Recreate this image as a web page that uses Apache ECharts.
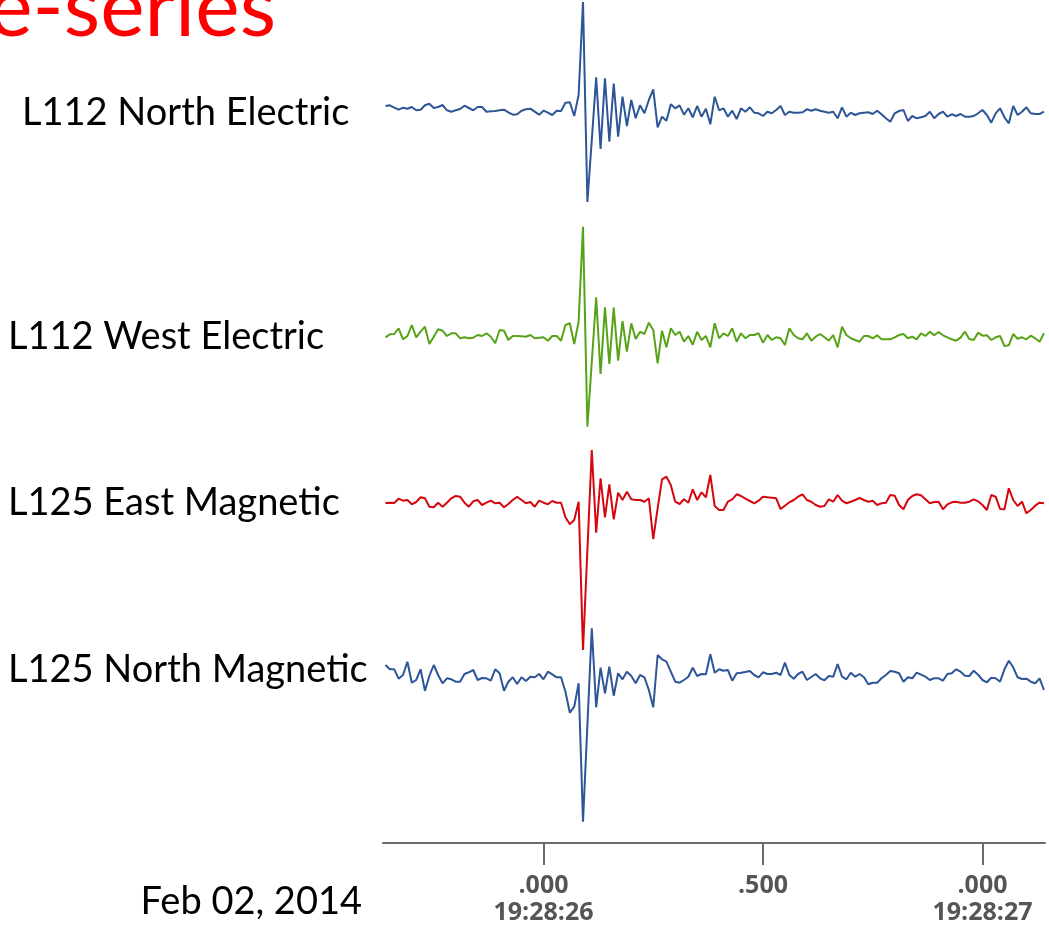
<!DOCTYPE html>
<html>
<head>
<meta charset="utf-8">
<title>time-series</title>
<script src="https://cdn.jsdelivr.net/npm/echarts@6/dist/echarts.min.js"></script>
<style>
	html,body{margin:0;padding:0;background:#fff;}
	#main{width:1049px;height:930px;}
</style>
</head>
<body>
<div id="main"></div>
<script>
	// sample clock: 100 Hz, first sample at 19:28:25.64 (seconds of the minute)
	const sampleStart = 25.64;
	const sampleStep = 0.01;
	const tickSeconds = [26, 26.5, 27];
	const channelNames = ['L112 North Electric', 'L112 West Electric', 'L125 East Magnetic', 'L125 North Magnetic'];
	const dateLabel = 'Feb 02, 2014';

	const northElectric112 = [
		1, 1.7, -0.7, -2.7, -0.7, -1.7, 0, -3.3, -2.7, 1.7,
		3.3, -1, 0, 2, -3.3, -4.7, -3.3, -2, 1.3, -1,
		-3.3, 0, 0, -4.7, -4.3, -4, -3.3, -2.7, -5.3, -7.7,
		-7.3, -3.7, -2.3, -1.7, -4.7, -7.7, -3.7, -5.7, -8, -3.7,
		-4, 4.3, 4.7, -9, 12, 105, -95, -33, 29.7, -42,
		28.7, -34.7, 23.3, -29.7, 10.3, -19, 7, -11.3, 1.7, -6.3,
		7, 17.7, -20.3, -9.7, -13.7, 2.7, -1.3, 1.7, -7.7, -1.3,
		-10.3, 1, -9.7, -1.7, -17.3, 10.3, -3.3, -1.3, -9.7, -3.7,
		-12, -1.3, -4.7, -0.3, -5.7, -6.3, -9, -4.7, -6.3, -3,
		1, -8, -4.7, -5.7, -5.7, -5.3, -2.3, -3.7, -2.3, -3.7,
		-4.7, -5.7, -4.7, -11.3, -0.3, -9.7, -5.7, -8, -6.3, -5.7,
		-5.3, -7, -3.7, -7.3, -11.3, -14.7, -6.3, -4, -3, -14,
		-9, -11.3, -10.3, -9, -4.7, -11.3, -7, -4.7, -9.7, -7.3,
		-9, -7, -9.7, -9.7, -9, -6.3, -3, -8, -15.7, -6.3,
		-1.3, -10.3, -16.3, 1, -8, -4.7, -0.3, -6.3, -7, -7,
		-4.7
	];
	const westElectric112 = [
		-0.3, 2.7, 3, 8.7, -2.3, 1, 12, -0.3, 5.3, 10.3,
		-7, 0.3, 7.7, 6.3, 1, 3.7, 3.7, -1.3, -0.3, -1.3,
		-0.7, 2, 1, 3.7, 0.3, -6.3, 7, 6.3, -3, 1,
		1, 0.7, 0.3, 2, -1.3, -0.7, -0.3, -3.7, 1, 1,
		-3.7, 12, 13.7, -7, 15.3, 110.3, -89.7, -25, 39.7, -37,
		29.7, -27, 29.3, -23.7, 16, -14.7, 13.7, -2, 5.3, 3,
		14.3, 7, -26.3, 6.3, -10.3, 8.7, 2, 5.3, -4.7, 1,
		-7.7, 5.3, -3, 1, -10.3, 13.7, -1.3, 3.7, 1, 8.7,
		-4.7, 3.7, -1.3, 2, 2, 3.7, -5.7, 2, -3, -0.3,
		-1.3, -8, 8.7, 2, -1.3, -2.3, 3.7, -3.7, 0.3, 3,
		-0.3, -3.7, 2, -10.3, 10.3, 2, -1.3, -3, -4.7, 1,
		1, -1.3, 1.7, -2.3, -2.3, -2.3, -0.3, 2, 3, -1.3,
		0.3, -2.3, 3.7, 1, 5.3, 1.7, 5, 1.7, -0.3, -2.3,
		-3.7, -0.7, 5.3, -2, -3, 4.3, 1.3, 1.7, -3, -0.3,
		1, -9, -8.3, 3, -1.7, -0.3, -2.3, 1.3, -1.3, -4.7,
		3.7
	];
	const eastMagnetic125 = [
		0, 0.3, 0, 4.3, 2.3, 3, -1.3, 1, 5.7, 4.7,
		-3.7, -4.3, 0.3, -3.7, 0.3, 4.7, 7, 6.3, 0.3, -3.7,
		1.7, 3, -2, 0.3, 2.3, -0.3, 0.3, -4.3, -1, 3,
		6.3, 3, -0.3, 1, -3.7, 2.3, 0.3, -1.3, 2, 0.3,
		0.3, -14.3, -21.3, -17, 1.3, -147, -47, 53, -29.7, 24.7,
		-14.3, 18.7, -16.3, 10.3, 3, 11.3, 3.7, 3, 3, 1.3,
		4.7, -36, -5.3, 23.7, 26.3, 18, 1.3, -1, 3.7, 0.3,
		13.7, 3, 10.7, 5.7, 28, -3, -7, -7, 1.3, 3.7,
		8.7, 7, 4.3, 2, -0.3, 2.3, 6.3, 5.7, 5.3, 4.7,
		-6, -2.7, 0.7, 3, 6.3, 8.7, 3, 1.3, -2, -3.7,
		-3, 3.7, 1.3, 8, 2.3, -0.3, 1.3, 3, 5, 3,
		1.3, 2.3, -2, -0.3, 0.3, 8, 7.3, -2, -6.3, 3,
		7, 8.7, 7.7, 3.7, -0.3, 1, 1.3, -6.3, -1.3, 0.7,
		1.3, 0.3, 0.3, 1.3, 3.7, 1.7, -2, -7, 8, 6.3,
		-6, -6.3, 14.7, 3, -3, 1.3, -10.3, -7, -2.7, 0.3,
		-0.3
	];
	const northMagnetic125 = [
		5, 0.7, 0.7, -8.7, -5, 8.3, -12.7, -10, 0.7, -20.7,
		-6, 5, -5, -13.3, -8.3, -9.3, -11.7, -11.7, -4, -2.3,
		0, -10, -8, -8.3, -10.7, 0.7, -3.3, -20.7, -11.7, -7.3,
		-14, -7.3, -11, -6.7, -7.3, -4, -9.3, -1.7, -4.3, -7.3,
		-7.3, -21.7, -42.7, -36.7, -13.3, -151.7, -55, 41.7, -37.3, 2.3,
		-23.3, 3.3, -25.7, -3.3, -9.3, -1.7, -6, -13.3, -5, -7.3,
		-20, -37.3, 15, 10.7, 8.3, -1.7, -11.7, -12.7, -10, -6.7,
		2.3, -6, -4, -4.3, 15.7, -2.7, 0.7, -0.7, 0, -10.7,
		-3.3, -2.7, -2, -1, -5, -7.3, -2.3, -4, -4, -2.7,
		-5, 7.3, -5, -8.7, -4, -1.7, -10, -7, -4, -8.3,
		-10.3, -6, -6.7, 6, -6.7, -9.3, -2.7, -6.7, -4, -7.3,
		-14.3, -12.7, -12.7, -8.3, -5, -1, -1.7, -3.3, -11.7, -7.3,
		-8.3, -2.7, -4.7, -6.7, -10, -8.3, -8.3, -10.7, -4, -3.3,
		0.7, -1.7, -5.7, -6, -0.7, -4.7, -10, -12.3, -7.7, -8.3,
		-11.7, 0.7, 9.3, 2.7, -7.3, -9, -8.7, -11.7, -13.3, -8.3,
		-20
	];

	const channelValues = [northElectric112, westElectric112, eastMagnetic125, northMagnetic125];
	const channelColors = ['#2d5597', '#57a317', '#d4060e', '#2d5597'];

	// one band per channel, stacked top to bottom
	const bands = [
		{ top: 0, height: 220, min: -113, max: 107 },
		{ top: 220, height: 220, min: -103, max: 117 },
		{ top: 440, height: 180, min: -117, max: 63 },
		{ top: 620, height: 223, min: -173, max: 50 }
	];
	const axisMin = 25.6344;
	const axisMax = 27.1424;

	function toPairs(values) {
		let out = [];
		for (let i = 0; i < values.length; i++) {
			out.push([+(sampleStart + i * sampleStep).toFixed(2), values[i]]);
		}
		return out;
	}

	function tickLabel(v) {
		let whole = Math.floor(v + 1e-9);
		let frac = Math.round((v - whole) * 1000);
		let ms = '.' + String(frac).padStart(3, '0');
		if (frac === 0) {
			return ms + '\n19:28:' + String(whole).padStart(2, '0');
		}
		return ms;
	}

	let chart = echarts.init(document.getElementById('main'), null, { renderer: 'canvas' });

	let grids = [], xAxes = [], yAxes = [], series = [];
	bands.forEach((b, k) => {
		let last = k === bands.length - 1;
		grids.push({ left: 383, right: 4, top: b.top, height: b.height });
		xAxes.push({
			type: 'value',
			gridIndex: k,
			min: axisMin,
			max: axisMax,
			show: last,
			position: 'bottom',
			splitLine: { show: false },
			axisLine: { show: last, onZero: false, lineStyle: { color: '#6b6b6b', width: 2 } },
			axisTick: { show: last, customValues: tickSeconds, length: 22, lineStyle: { color: '#6b6b6b', width: 2 } },
			axisLabel: {
				show: last,
				customValues: tickSeconds,
				formatter: tickLabel,
				margin: 29,
				fontFamily: 'Open Sans',
				fontWeight: 'bold',
				fontSize: 25,
				lineHeight: 27,
				color: '#555555'
			}
		});
		yAxes.push({
			type: 'value',
			gridIndex: k,
			min: b.min,
			max: b.max,
			show: false,
			splitLine: { show: false }
		});
		series.push({
			name: channelNames[k],
			type: 'line',
			xAxisIndex: k,
			yAxisIndex: k,
			data: toPairs(channelValues[k]),
			showSymbol: false,
			clip: false,
			silent: true,
			animation: false,
			lineStyle: { color: channelColors[k], width: 2 },
			z: 3 + k
		});
	});

	const labelFont = 'Lato, "Open Sans", sans-serif';
	let labelPos = [[22, 113], [8, 337], [8, 503], [8, 670]];
	let graphics = [{
		type: 'text',
		right: 1049 - 276,
		top: -33,
		style: { text: 'e-series', fill: '#ff0000', font: '84px ' + labelFont }
	}];
	channelNames.forEach((n, k) => {
		graphics.push({
			type: 'text',
			x: labelPos[k][0],
			y: labelPos[k][1],
			style: { text: n, fill: '#000', font: '38px ' + labelFont, verticalAlign: 'middle' }
		});
	});
	graphics.push({
		type: 'text',
		x: 362,
		y: 902,
		style: { text: dateLabel, fill: '#000', font: '38px ' + labelFont, align: 'right', verticalAlign: 'middle' }
	});

	chart.setOption({
		animation: false,
		grid: grids,
		xAxis: xAxes,
		yAxis: yAxes,
		series: series,
		graphic: graphics
	});
</script>
</body>
</html>
